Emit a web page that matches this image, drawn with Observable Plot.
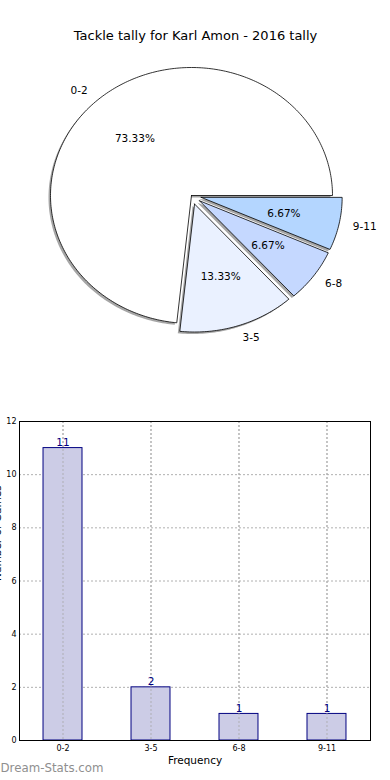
<!DOCTYPE html>
<html>
<head>
<meta charset="utf-8">
<script src="https://cdn.jsdelivr.net/npm/d3@7"></script>
<script src="https://cdn.jsdelivr.net/npm/@observablehq/plot@0.6"></script>
<style>
  html, body { margin: 0; padding: 0; background: white; }
  #chart svg { display: block; font-family: "DejaVu Sans", sans-serif; }
</style>
</head>
<body>
<div id="chart"></div>
<script>
// ---- data ----
const titleText = "Tackle tally for Karl Amon - 2016 tally";
const categories = ["0-2", "3-5", "6-8", "9-11"];
const counts = [11, 2, 1, 1];
const pieColors = ["#ffffff", "#eaf1ff", "#c5d8ff", "#b4d6ff"];
const explode = [0, 0.07, 0.07, 0.07];
const yTicks = [0, 2, 4, 6, 8, 10, 12];
const xLabel = "Frequency";
const yLabel = "Number of Games";
const watermark = "Dream-Stats.com";

const font = "DejaVu Sans, sans-serif";
const total = d3.sum(counts);

// ---- pie geometry (in unit data space) ----
let start = 0;
const slices = counts.map((v, i) => {
  const a0 = start, a1 = start + 360 * v / total;
  start = a1;
  const mid = (a0 + a1) / 2 * Math.PI / 180;
  const cx = explode[i] * Math.cos(mid), cy = explode[i] * Math.sin(mid);
  const pts = [{x: cx, y: cy}];
  const n = Math.max(2, Math.ceil(a1 - a0));
  for (let k = 0; k <= n; k++) {
    const a = (a0 + (a1 - a0) * k / n) * Math.PI / 180;
    pts.push({x: cx + Math.cos(a), y: cy + Math.sin(a)});
  }
  pts.push({x: cx, y: cy});
  const lx = cx + 1.1 * Math.cos(mid), ly = cy + 1.1 * Math.sin(mid);
  const px = cx + 0.6 * Math.cos(mid), py = cy + 0.6 * Math.sin(mid);
  return {
    i, pts, color: pieColors[i], label: categories[i],
    pct: (100 * v / total).toFixed(2) + "%",
    lx, ly, px, py
  };
});

const shadowMarks = slices.map(s => Plot.line(s.pts, {
  x: "x", y: "y", fill: "#4d4d4d", fillOpacity: 0.5, stroke: "none", dx: -2, dy: 2
}));
const sliceMarks = slices.map(s => Plot.line(s.pts, {
  x: "x", y: "y", fill: s.color, stroke: "black", strokeWidth: 0.8
}));

const pie = Plot.plot({
  width: 390, height: 390,
  marginTop: 0, marginBottom: 0, marginLeft: 0, marginRight: 0,
  style: {fontFamily: font, overflow: "visible"},
  x: {domain: [-1, 1], range: [50, 332], axis: null},
  y: {domain: [-1, 1], range: [323, 67], axis: null},
  marks: [
    ...shadowMarks,
    ...sliceMarks,
    Plot.text(slices.filter(s => s.lx < 0), {x: "lx", y: "ly", text: "label", textAnchor: "end", fontSize: 10.5, fill: "black"}),
    Plot.text(slices.filter(s => s.lx >= 0), {x: "lx", y: "ly", text: "label", textAnchor: "start", fontSize: 10.5, fill: "black"}),
    Plot.text(slices, {x: "px", y: "py", text: "pct", textAnchor: "middle", fontSize: 10.5, fill: "black"}),
    Plot.text([titleText], {frameAnchor: "top", dy: 30, fontSize: 13, fill: "black"})
  ]
});

// ---- bar chart ----
const bars = categories.map((c, i) => ({cat: c, value: counts[i]}));

const bar = Plot.plot({
  width: 390, height: 390,
  marginTop: 31, marginBottom: 40, marginLeft: 19, marginRight: 20,
  style: {fontFamily: font, overflow: "visible"},
  x: {type: "band", domain: categories, paddingInner: 0.557, paddingOuter: 0.273, label: null, round: false},
  y: {domain: [0, 12], label: null},
  marks: [
    Plot.gridX({stroke: "#b0b0b0", strokeOpacity: 1, strokeDasharray: "2,2"}),
    Plot.gridY(yTicks, {stroke: "#b0b0b0", strokeOpacity: 1, strokeDasharray: "2,2"}),
    Plot.barY(bars, {x: "cat", y: "value", fill: "#cccce6", stroke: "#000080", strokeWidth: 1}),
    Plot.gridX({stroke: "#a8a8a8", strokeOpacity: 0.8, strokeDasharray: "2,2"}),
    Plot.text(bars, {x: "cat", y: "value", text: d => String(d.value), lineAnchor: "bottom", dy: -2, fill: "#000080", fontSize: 10.5}),
    Plot.frame({stroke: "black", strokeWidth: 1}),
    Plot.axisY({ticks: yTicks, tickSize: 0, tickPadding: 3, fontSize: 8, label: null}),
    Plot.axisX({tickSize: 0, tickPadding: 5, fontSize: 8, label: null}),
    Plot.text([xLabel], {frameAnchor: "bottom", dy: 23, fontSize: 10.5, fill: "black"}),
    Plot.text([yLabel], {frameAnchor: "left", rotate: -90, dx: -22, fontSize: 10.5, fill: "black"}),
    Plot.text([watermark], {frameAnchor: "bottom-left", dx: -19, dy: 31, textAnchor: "start", fontSize: 11.8, fill: "#8f8f8f"})
  ]
});

document.getElementById("chart").append(pie, bar);
</script>
</body>
</html>
